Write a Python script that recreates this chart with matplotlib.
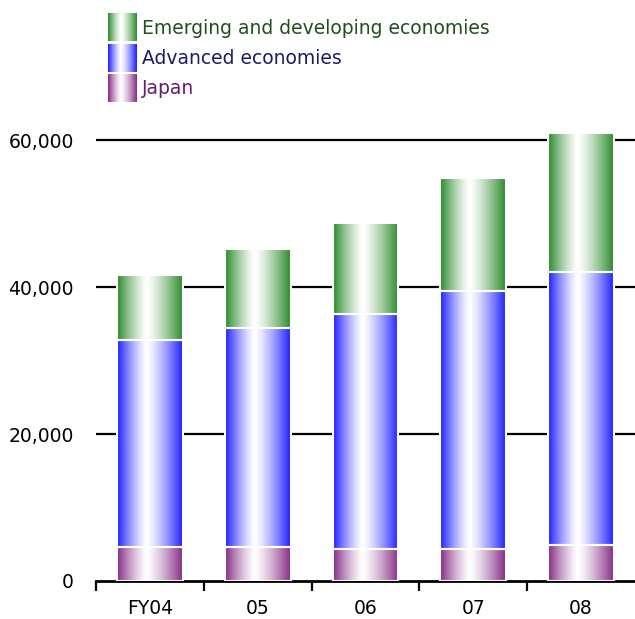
import numpy as np
import matplotlib.pyplot as plt
from matplotlib.colors import to_rgb

plt.rcParams['font.family'] = ['DejaVu Sans']

# data
years = ['FY04', '05', '06', '07', '08']
japan = [4600, 4600, 4350, 4350, 4900]
advanced = [28200, 29800, 31950, 35150, 37100]
emerging = [8800, 10800, 12400, 15300, 19000]

series = [
    ('Japan', japan, '#842a84', '#6a1a6a'),
    ('Advanced economies', advanced, '#1e1eff', '#1a1a6e'),
    ('Emerging and developing economies', emerging, '#2a8a2a', '#1f4f1f'),
]


def gradient(base, n=200):
    # dark at both edges, white just left of centre
    x = np.linspace(0, 1, n)
    t = np.where(x < 0.45, (0.45 - x) / 0.45, (x - 0.45) / 0.55)
    t = t ** 1.3
    c = np.array(to_rgb(base))
    w = np.ones(3)
    img = w[None, :] * (1 - t[:, None]) + c[None, :] * t[:, None]
    return img[None, :, :]


W, H = 635, 619
fig = plt.figure(figsize=(W / 100, H / 100), dpi=100)
ymax = 63000
y0_px, px_per = 581, 441 / 60000
top_px = y0_px - ymax * px_per
ax = fig.add_axes([96 / W, 1 - y0_px / H, 1 - 96 / W, (y0_px - top_px) / H])

x = np.arange(len(years))
bw = 0.61
bottom = np.zeros(len(years))
for name, vals, col, tcol in series:
    bars = ax.bar(x, vals, bw, bottom=bottom, facecolor='none',
                  edgecolor='white', linewidth=1.5, zorder=4)
    img = gradient(col)
    for b in bars:
        ax.imshow(img, extent=[b.get_x(), b.get_x() + b.get_width(),
                               b.get_y(), b.get_y() + b.get_height()],
                  aspect='auto', zorder=3, interpolation='bilinear')
    bottom += np.array(vals)

ax.set_xlim(-0.5, len(years) - 0.5)
ax.set_ylim(0, ymax)
ax.set_yticks([0, 20000, 40000, 60000])
ax.set_yticklabels(['0', '20,000', '40,000', '60,000'])
for yv in [20000, 40000, 60000]:
    ax.axhline(yv, color='black', lw=1.6, zorder=1)

ax.set_xticks(x)
ax.set_xticklabels(years)
ax.set_xticks(np.arange(-0.5, len(years) - 0.5, 1), minor=True)
ax.tick_params(axis='x', which='major', length=0, pad=13, labelsize=13.5)
ax.tick_params(axis='x', which='minor', length=7, width=1.6, color='black')
ax.tick_params(axis='y', length=0, pad=16, labelsize=13.5)

for s in ['top', 'right', 'left']:
    ax.spines[s].set_visible(False)
ax.spines['bottom'].set_linewidth(2)
ax.patch.set_alpha(0)

# legend drawn by hand with gradient swatches
lax = fig.add_axes([0, 0, 1, 1], zorder=5)
lax.axis('off')
rows = [(13, series[2]), (44, series[1]), (74, series[0])]
for ytop, (name, vals, col, tcol) in rows:
    lax.imshow(gradient(col), extent=[108, 137, ytop + 28, ytop],
               aspect='auto', interpolation='bilinear')
    lax.text(142, ytop + 15, name, color=tcol, fontsize=13.5, va='center')
lax.set_xlim(0, W)
lax.set_ylim(H, 0)

fig.savefig('out.png', dpi=100)
